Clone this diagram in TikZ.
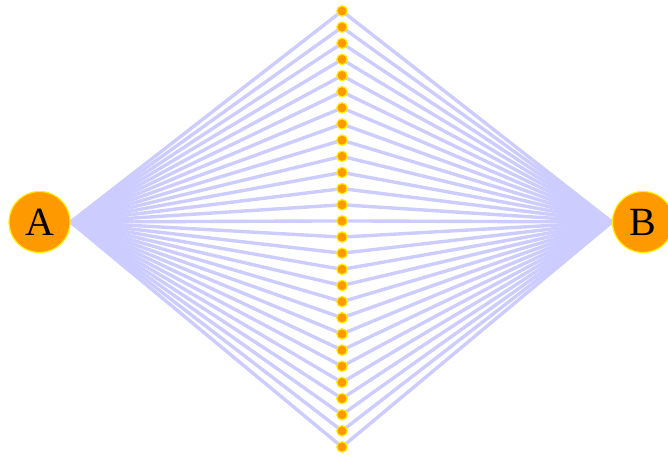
\documentclass[tikz,border=0pt]{standalone}
\usepackage{fontspec}
\setmainfont{Liberation Serif}
\usetikzlibrary{backgrounds}
\definecolor{nodeorange}{RGB}{255,153,0}
\definecolor{nodeyellow}{RGB}{255,240,0}
\definecolor{linkblue}{RGB}{204,204,255}
\tikzset{
  endnode/.style={circle, fill=nodeorange, draw=nodeyellow, line width=1.2pt,
    minimum size=61pt, inner sep=0pt, font=\fontsize{40}{40}\selectfont},
  dotnode/.style={circle, fill=nodeorange, draw=nodeyellow, line width=1.2pt,
    minimum size=10.5pt, inner sep=0pt},
  link/.style={draw=linkblue, line width=3.4pt}
}
\begin{document}
\begin{tikzpicture}[x=1pt,y=-1pt]
\useasboundingbox (0,0) rectangle (668,458);
\node[endnode] (A) at (39.5,222) {A};
\node[endnode] (B) at (643,222) {B};
\foreach \i in {0,...,27} {
  \node[dotnode] (d\i) at (342,{11+\i*436/27}) {};
}
\begin{pgfonlayer}{background}
\foreach \i in {0,...,27} {
  \draw[link] (A.east) -- (d\i.center);
  \draw[link] (d\i.center) -- (B.west);
}
\end{pgfonlayer}
\end{tikzpicture}
\end{document}
